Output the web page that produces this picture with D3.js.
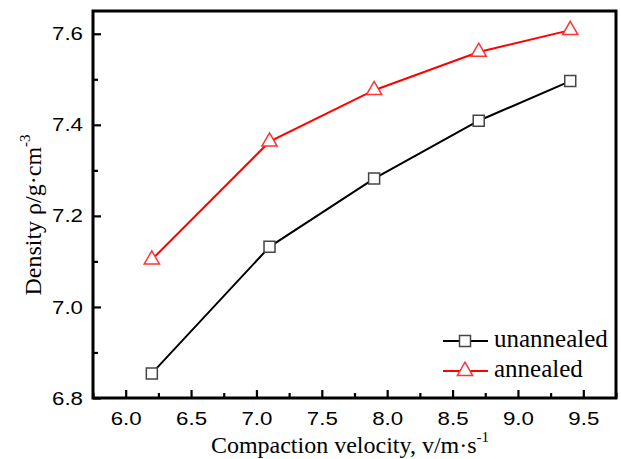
<!DOCTYPE html>
<html><head><meta charset="utf-8">
<script src="https://cdn.jsdelivr.net/npm/d3@7"></script>
<style>body{margin:0;background:#fff}svg{display:block}</style>
</head><body>
<script>
const velocity = [6.2, 7.1, 7.9, 8.7, 9.4];
const unannealed = [6.854, 7.132, 7.282, 7.409, 7.496];
const annealed = [7.104, 7.363, 7.476, 7.560, 7.608];
const xTicks = [6.0, 6.5, 7.0, 7.5, 8.0, 8.5, 9.0, 9.5];
const yTicks = [6.8, 7.0, 7.2, 7.4, 7.6];
const seriesNames = ["unannealed", "annealed"];

const W = 621, H = 459;
const m = {l: 93, t: 11, r: 5, b: 61};
const svg = d3.select("body").append("svg").attr("width", W).attr("height", H);
const x = d3.scaleLinear().domain([5.75, 9.75]).range([m.l, W - m.r]);
const y = d3.scaleLinear().domain([6.8, 7.65]).range([H - m.b, m.t]);

const tickFont = "Liberation Sans, Arial, sans-serif";
const serif = "Liberation Serif, Times New Roman, serif";

const xMinor = d3.range(5.75, 9.76, 0.25).filter(v => !xTicks.some(t => Math.abs(t - v) < 1e-6));
const yMinor = [6.9, 7.1, 7.3, 7.5];

const gx = svg.append("g").attr("transform", `translate(0,${H - m.b})`)
  .call(d3.axisBottom(x).tickValues(xTicks).tickFormat(d3.format(".1f")).tickSizeInner(-8).tickSizeOuter(0).tickPadding(14));
gx.select(".domain").remove();
gx.selectAll("line").attr("stroke", "#000").attr("stroke-width", 2.2);
gx.selectAll("text").attr("font-family", tickFont).attr("font-size", 19).attr("fill", "#000")
  .attr("textLength", 31).attr("lengthAdjust", "spacingAndGlyphs");
const gxm = svg.append("g").attr("transform", `translate(0,${H - m.b})`)
  .call(d3.axisBottom(x).tickValues(xMinor).tickFormat("").tickSizeInner(-5).tickSizeOuter(0));
gxm.select(".domain").remove();
gxm.selectAll("line").attr("stroke", "#000").attr("stroke-width", 2.2);

const gy = svg.append("g").attr("transform", `translate(${m.l},0)`)
  .call(d3.axisLeft(y).tickValues(yTicks).tickFormat(d3.format(".1f")).tickSizeInner(-8).tickSizeOuter(0).tickPadding(10));
gy.select(".domain").remove();
gy.selectAll("line").attr("stroke", "#000").attr("stroke-width", 2.2);
gy.selectAll("text").attr("font-family", tickFont).attr("font-size", 19).attr("fill", "#000")
  .attr("textLength", 31).attr("lengthAdjust", "spacingAndGlyphs");
const gym = svg.append("g").attr("transform", `translate(${m.l},0)`)
  .call(d3.axisLeft(y).tickValues(yMinor).tickFormat("").tickSizeInner(-5).tickSizeOuter(0));
gym.select(".domain").remove();
gym.selectAll("line").attr("stroke", "#000").attr("stroke-width", 2.2);

svg.append("rect").attr("x", m.l).attr("y", m.t).attr("width", W - m.r - m.l).attr("height", H - m.b - m.t)
  .attr("fill", "none").attr("stroke", "#000").attr("stroke-width", 3);

const line = d3.line().x(d => x(d[0])).y(d => y(d[1]));
const data = [
  {name: seriesNames[0], vals: unannealed, color: "#000", mcolor: "#444", sym: d3.symbolSquare, size: 121},
  {name: seriesNames[1], vals: annealed, color: "#ff0000", mcolor: "#ff3333", sym: d3.symbolTriangle, size: 100}
];
data.forEach(s => {
  const pts = velocity.map((v, i) => [v, s.vals[i]]);
  svg.append("path").datum(pts).attr("d", line).attr("fill", "none").attr("stroke", s.color).attr("stroke-width", 2);
  svg.selectAll(null).data(pts).enter().append("path")
    .attr("d", d3.symbol().type(s.sym).size(s.size))
    .attr("transform", d => `translate(${x(d[0])},${y(d[1])})`)
    .attr("fill", "#fff").attr("stroke", s.mcolor).attr("stroke-width", 1.5);
});

data.forEach((s, i) => {
  const ly = 341 + i * 30;
  svg.append("line").attr("x1", 443).attr("x2", 488).attr("y1", ly).attr("y2", ly).attr("stroke", s.color).attr("stroke-width", 2);
  svg.append("path").attr("d", d3.symbol().type(s.sym).size(s.size)).attr("transform", `translate(465,${ly})`)
    .attr("fill", "#fff").attr("stroke", s.mcolor).attr("stroke-width", 1.5);
  svg.append("text").attr("x", 494).attr("y", ly + 5.5).text(s.name)
    .attr("font-family", serif).attr("font-size", 25).attr("fill", "#000");
});

const xt = svg.append("text").attr("x", 350).attr("y", 453).attr("text-anchor", "middle")
  .attr("font-family", serif).attr("font-size", 24).attr("fill", "#000");
xt.append("tspan").text("Compaction velocity, v/m·s");
xt.append("tspan").text("-1").attr("font-size", 15).attr("dy", -11);

const yt = svg.append("text").attr("transform", "translate(41,215) rotate(-90)").attr("text-anchor", "middle")
  .attr("font-family", serif).attr("font-size", 24).attr("fill", "#000");
yt.append("tspan").text("Density ρ/g·cm");
yt.append("tspan").text("-3").attr("font-size", 15).attr("dy", -11);
</script>
</body></html>
